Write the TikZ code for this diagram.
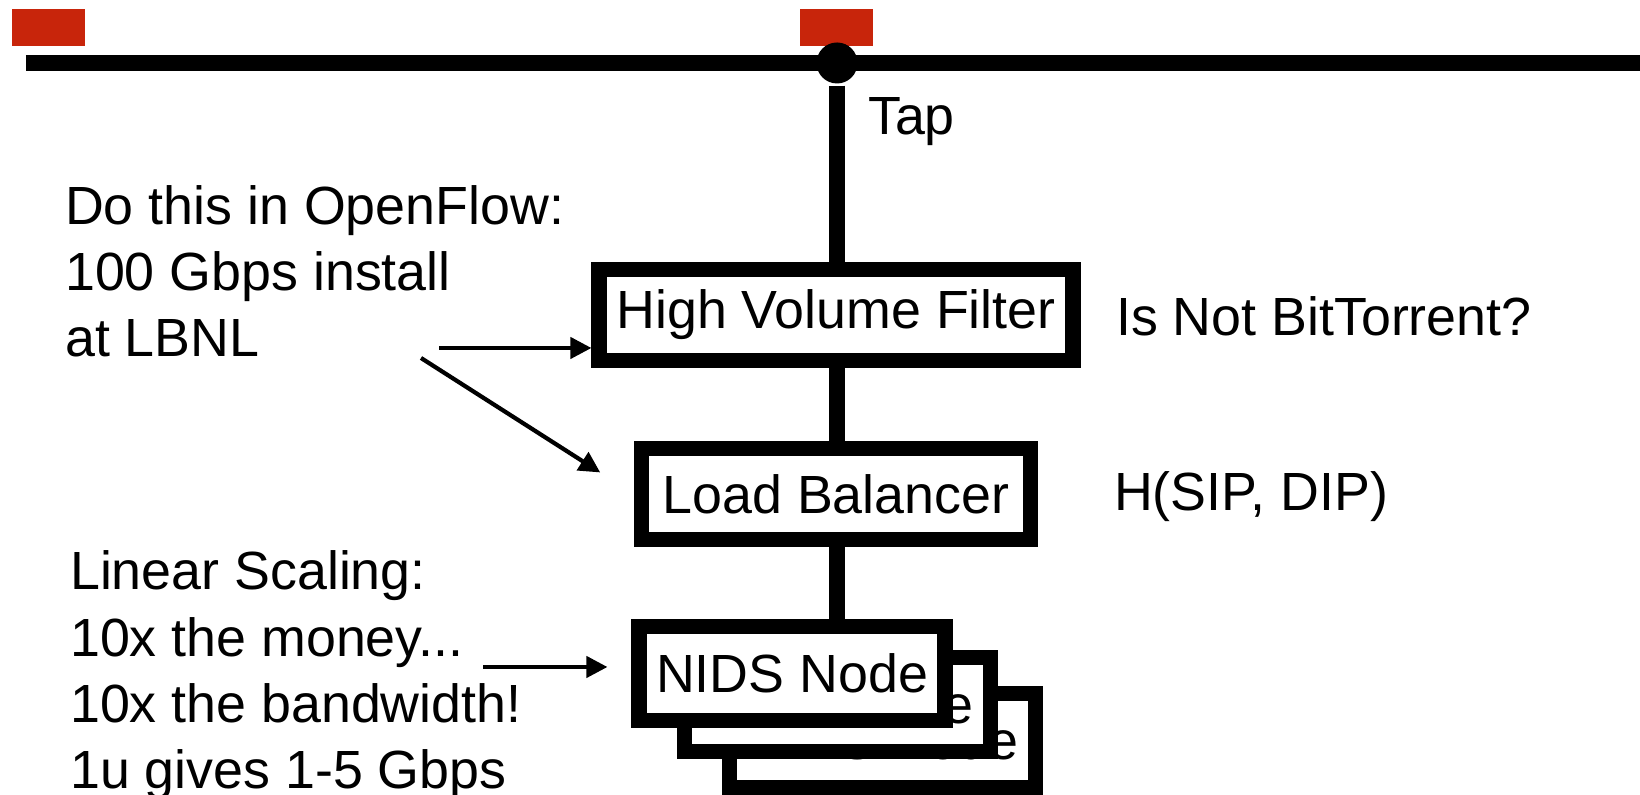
\documentclass[tikz,border=0pt]{standalone}
\usepackage{fontspec}
\setmainfont{Liberation Sans}
\usetikzlibrary{arrows.meta, positioning, backgrounds}
\definecolor{cred}{HTML}{C8250B}
\tikzset{
  every picture/.style={font=\fontsize{15.3}{18.9}\selectfont, line width=1.2pt},
  box/.style={draw=black, fill=white, line width=4.3pt, minimum height=0.91cm, inner sep=0pt},
  wire/.style={draw=black, line width=4.3pt},
  arrow/.style={-{Triangle[length=2.1mm, width=2.1mm]}, draw=black, line width=1.2pt},
  marker/.style={fill=cred, minimum width=0.73cm, minimum height=0.37cm, inner sep=0pt},
  note/.style={align=left, inner sep=0pt, anchor=base west},
}

\begin{document}
\begin{tikzpicture}
  \useasboundingbox (0,0) rectangle (16.4,7.95);
  % ---- bus and tap ----
  \node[marker] (mk1) at (0.485,7.676) {};
  \node[marker] (mk2) at (8.36,7.676) {};
  \coordinate (busL) at (0.26,7.32);
  \coordinate (busR) at (16.4,7.32);
  \draw[wire] (busL) -- (busR);
  \node[circle, fill=black, minimum size=0.41cm, inner sep=0pt] (tap) at (8.37,7.32) {};
  \node[note] (taplbl) at (8.66,6.60) {Tap};
  % ---- pipeline ----
  \node[box, minimum width=4.74cm] (hvf) at (8.36,4.80) {High Volume Filter};
  \node[box, minimum width=3.89cm] (lb) at (8.36,3.01) {Load Balancer};
  \foreach \i/\x/\y in {3/8.825/0.545, 2/8.375/0.905, 1/7.92/1.215}
    \node[box, minimum width=3.06cm, minimum height=0.94cm] (nids\i) at (\x,\y) {NIDS Node};
  \begin{scope}[on background layer]
    \draw[wire] (tap) -- (tap |- nids1.north);
  \end{scope}
  \node[note] (bt) at (11.14,4.59) {Is Not BitTorrent?};
  \node[note] (hash) at (11.12,2.84) {H(SIP, DIP)};
  % ---- notes on the left ----
  \node[note] (ofl) at (0.63,4.38) {Do this in OpenFlow:\\100 Gbps install\\at LBNL};
  \node[note] (lin) at (0.68,0.06) {Linear Scaling:\\10x the money...\\10x the bandwidth!\\1u gives 1-5 Gbps};
  \coordinate (a1) at (4.39,4.47);
  \coordinate (a2) at (4.21,4.37);
  \coordinate (a3) at (4.83,1.28);
  \draw[arrow] (a1) -- (a1 -| hvf.west);
  \draw[arrow, shorten >=4mm] (a2) -- (lb.west);
  \draw[arrow, shorten >=2.4mm] (a3) -- (a3 -| nids1.west);
\end{tikzpicture}
\end{document}
